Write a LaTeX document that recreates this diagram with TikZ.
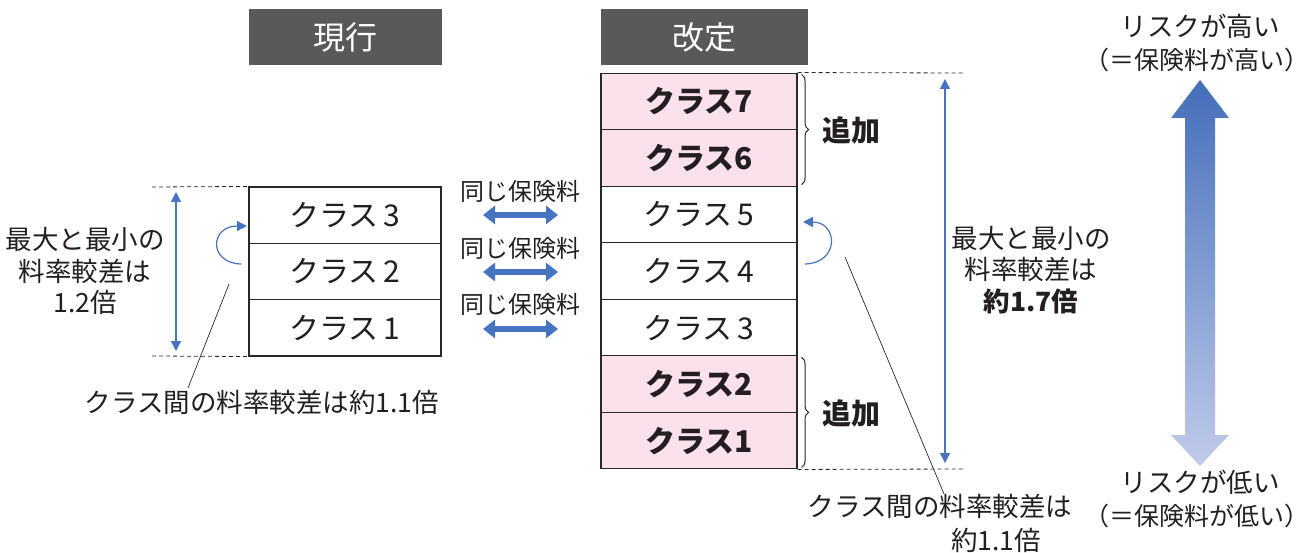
\documentclass[tikz,border=0pt]{standalone}
\usepackage{fontspec}
\setmainfont{Noto Sans CJK JP}
\usetikzlibrary{arrows.meta,decorations.pathreplacing,calc}
\definecolor{hdrgray}{RGB}{88,89,91}
\definecolor{txt}{RGB}{35,31,32}
\definecolor{edge}{RGB}{40,40,40}
\definecolor{pinkbg}{RGB}{251,225,236}
\definecolor{blu}{RGB}{70,116,192}
\definecolor{topblue}{RGB}{68,110,186}
\definecolor{botblue}{RGB}{192,203,234}
\begin{document}
\begin{tikzpicture}[x=1pt,y=-1pt,
  hdr/.style={fill=hdrgray,text=white,minimum height=56pt,inner sep=0pt,font=\fontsize{32}{36}\selectfont},
  cell/.style={draw=edge,line width=1.1pt,minimum height=56.4pt,inner sep=0pt,text=txt,font=\fontsize{30}{34}\selectfont},
  pcell/.style={cell,fill=pinkbg,font=\fontsize{30}{34}\selectfont\bfseries},
  lbl/.style={text=txt,align=center,inner sep=0pt,font=\fontsize{26.5}{31.5}\selectfont},
  paren/.style={lbl,font=\fontsize{25}{30}\selectfont},
  small/.style={text=txt,inner sep=0pt,font=\fontsize{24}{28}\selectfont},
  dashline/.style={dashed,line width=0.8pt,draw=edge,dash pattern=on 4pt off 3pt},
  vline/.style={draw=blu,line width=1.2pt,{Triangle[width=10pt,length=10pt]}-{Triangle[width=10pt,length=10pt]}},
  fat/.style={draw=blu,line width=6pt,{Triangle[width=18pt,length=12pt]}-{Triangle[width=18pt,length=12pt]}},
  curl/.style={draw=blu,line width=1.2pt,-{Triangle[width=10pt,length=10pt]}},
  lead/.style={draw=edge,line width=0.7pt},
  brc/.style={draw=edge,line width=1pt,decorate,decoration={brace,amplitude=7pt}}
]
\useasboundingbox (0,0) rectangle (1314,553);
% headers
\node[hdr,minimum width=193pt] (h1) at (345,37) {現行};
\node[hdr,minimum width=207pt] (h2) at (704.5,37) {改定};
% left table
\node[cell,minimum width=192pt] (l3) at (345,215.2) {クラス\,3};
\node[cell,minimum width=192pt] (l2) at (345,271.5) {クラス\,2};
\node[cell,minimum width=192pt] (l1) at (345,327.8) {クラス\,1};
% right table
\node[pcell,minimum width=196pt] (r7) at (699,101.3) {クラス7};
\node[pcell,minimum width=196pt] (r6) at (699,157.9) {クラス6};
\node[cell,minimum width=196pt] (r5) at (699,214.4) {クラス\,5};
\node[cell,minimum width=196pt] (r4) at (699,271.0) {クラス\,4};
\node[cell,minimum width=196pt] (r3) at (699,327.6) {クラス\,3};
\node[pcell,minimum width=196pt] (r2) at (699,384.1) {クラス2};
\node[pcell,minimum width=196pt] (r1) at (699,440.7) {クラス1};
% left dashed and arrow
\coordinate (ldt) at (152,187);
\coordinate (ldb) at (152,356);
\draw[dashline] (ldt) -- (l3.north west);
\draw[dashline] (ldb) -- (l1.south west);
\coordinate (lat) at (176,192);
\coordinate (lab) at (176,351);
\draw[vline] (lat) -- (lab);
\node[lbl] (ltext) at (85,271) {最大と最小の\\料率較差は\\1.2倍};
% left curl
\coordinate (lc1) at (241,264);
\coordinate (lc2) at (247,226);
\draw[curl] (lc1) .. controls (208,263) and (210,226) .. (lc2);
\coordinate (lls) at (229,284);
\node[lbl] (lnote) at (262,402) {クラス間の料率較差は約1.1倍};
\draw[lead] (lls) -- (188,388);
% middle
\node[small] (m1) at (520,191) {同じ保険料};
\node[small] (m2) at (520,248) {同じ保険料};
\node[small] (m3) at (520,304) {同じ保険料};
\coordinate (a1l) at (483,215); \coordinate (a1r) at (558,215);
\coordinate (a2l) at (483,272); \coordinate (a2r) at (558,272);
\coordinate (a3l) at (483,329); \coordinate (a3r) at (558,329);
\draw[fat] (a1l) -- (a1r);
\draw[fat] (a2l) -- (a2r);
\draw[fat] (a3l) -- (a3r);
% braces
\draw[brc] ($(r7.north east)+(4,2)$) -- ($(r6.south east)+(4,-2)$);
\draw[brc] ($(r2.north east)+(4,2)$) -- ($(r1.south east)+(4,-2)$);
\node[lbl,font=\fontsize{29}{32}\selectfont\bfseries] (add1) at (851,130) {追加};
\node[lbl,font=\fontsize{29}{32}\selectfont\bfseries] (add2) at (851,413) {追加};
% right dashed and arrow
\coordinate (rdt) at (965,73);
\coordinate (rdb) at (965,469);
\draw[dashline] (r7.north east) -- (rdt);
\draw[dashline] (r1.south east) -- (rdb);
\coordinate (rat) at (945,79);
\coordinate (rab) at (945,463);
\draw[vline] (rat) -- (rab);
\node[lbl] (rtext) at (1031,270) {最大と最小の\\料率較差は\\\textbf{約1.7倍}};
% right curl
\coordinate (rc1) at (805,264);
\coordinate (rc2) at (803,222);
\draw[curl] (rc1) .. controls (840,263) and (838,222) .. (rc2);
\coordinate (rls) at (845,257);
\node[lbl] (rnote) at (940,506) {クラス間の料率較差は};
\node[lbl] (rnote2) at (996,540) {約1.1倍};
\draw[lead] (rls) -- (944,494);
% big arrow
\shade[top color=topblue,bottom color=botblue]
  (1200,80) -- (1229,118) -- (1215,118) -- (1215,435) -- (1229,435) -- (1200,466)
  -- (1171,435) -- (1185,435) -- (1185,118) -- (1171,118) -- cycle;
\node[lbl] (hi1) at (1200,26) {リスクが高い};
\node[paren] (hi2) at (1197,60) {（＝保険料が高い）};
\node[lbl] (lo1) at (1200,482) {リスクが低い};
\node[paren] (lo2) at (1197,516) {（＝保険料が低い）};
\end{tikzpicture}
\end{document}
